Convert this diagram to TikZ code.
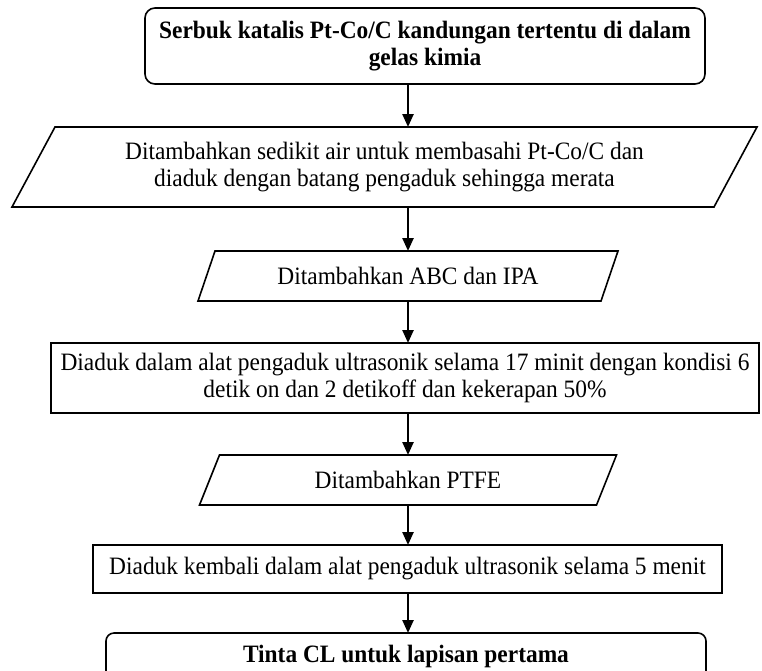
\documentclass[tikz,border=0pt]{standalone}
\usepackage{fontspec}
\setmainfont{Liberation Serif}[FakeStretch=0.936]
\usetikzlibrary{arrows.meta}
\begin{document}
\begin{tikzpicture}[x=1pt,y=-1pt,
  every node/.style={inner sep=0pt, outer sep=0pt, align=center,
    font=\fontsize{25}{27}\selectfont},
  stepbox/.style={draw, line width=1.6pt},
  roundbox/.style={draw, line width=1.6pt, rounded corners=10pt},
  hiddenbox/.style={},
  edge/.style={line width=1.6pt, line join=miter},
  flow/.style={line width=2.4pt, -{Triangle[width=11pt,length=13pt]}}]
\useasboundingbox (0,0) rectangle (762,670);
\clip (0,0) rectangle (762,670);

% process boxes
\node[roundbox, minimum width=560pt, minimum height=76pt] (start) at (425,46)
  {\bfseries Serbuk katalis Pt-Co/C kandungan tertentu di dalam\\\bfseries gelas kimia};
\node[hiddenbox, minimum width=702pt, minimum height=80pt] (add1) at (384.5,167)
  {Ditambahkan sedikit air untuk membasahi Pt-Co/C dan\\diaduk dengan batang pengaduk sehingga merata};
\node[hiddenbox, minimum width=403pt, minimum height=50pt] (add2) at (408,276)
  {Ditambahkan ABC dan IPA};
\node[stepbox, minimum width=708pt, minimum height=70pt] (mix1) at (405,378)
  {Diaduk dalam alat pengaduk ultrasonik selama 17 minit dengan kondisi 6\\detik on dan 2 detikoff dan kekerapan 50\%};
\node[hiddenbox, minimum width=397pt, minimum height=50pt] (add3) at (408,480)
  {Ditambahkan PTFE};
\node[stepbox, minimum width=629pt, minimum height=48pt] (mix2) at (407.5,569)
  {Diaduk kembali dalam alat pengaduk ultrasonik selama 5 menit};
\node[roundbox, rounded corners=8pt, minimum width=600pt, minimum height=46pt] (finish) at (406,656)
  {\bfseries Tinta CL untuk lapisan pertama};

% input/output parallelograms around the hidden boxes
\draw[edge] ([xshift=21.5pt]add1.north west) -- ([xshift=21.5pt]add1.north east)
  -- ([xshift=-21.5pt]add1.south east) -- ([xshift=-21.5pt]add1.south west) -- cycle;
\draw[edge] ([xshift=8.5pt]add2.north west) -- ([xshift=8.5pt]add2.north east)
  -- ([xshift=-8.5pt]add2.south east) -- ([xshift=-8.5pt]add2.south west) -- cycle;
\draw[edge] ([xshift=10pt]add3.north west) -- ([xshift=10pt]add3.north east)
  -- ([xshift=-10pt]add3.south east) -- ([xshift=-10pt]add3.south west) -- cycle;

% connectors on a common vertical axis
\coordinate (ax) at (408,0);
\draw[flow] (start.south -| ax) -- (add1.north -| ax);
\draw[flow] (add1.south -| ax) -- (add2.north -| ax);
\draw[flow] (add2.south -| ax) -- (mix1.north -| ax);
\draw[flow] (mix1.south -| ax) -- (add3.north -| ax);
\draw[flow] (add3.south -| ax) -- (mix2.north -| ax);
\draw[flow] (mix2.south -| ax) -- (finish.north -| ax);
\end{tikzpicture}
\end{document}
